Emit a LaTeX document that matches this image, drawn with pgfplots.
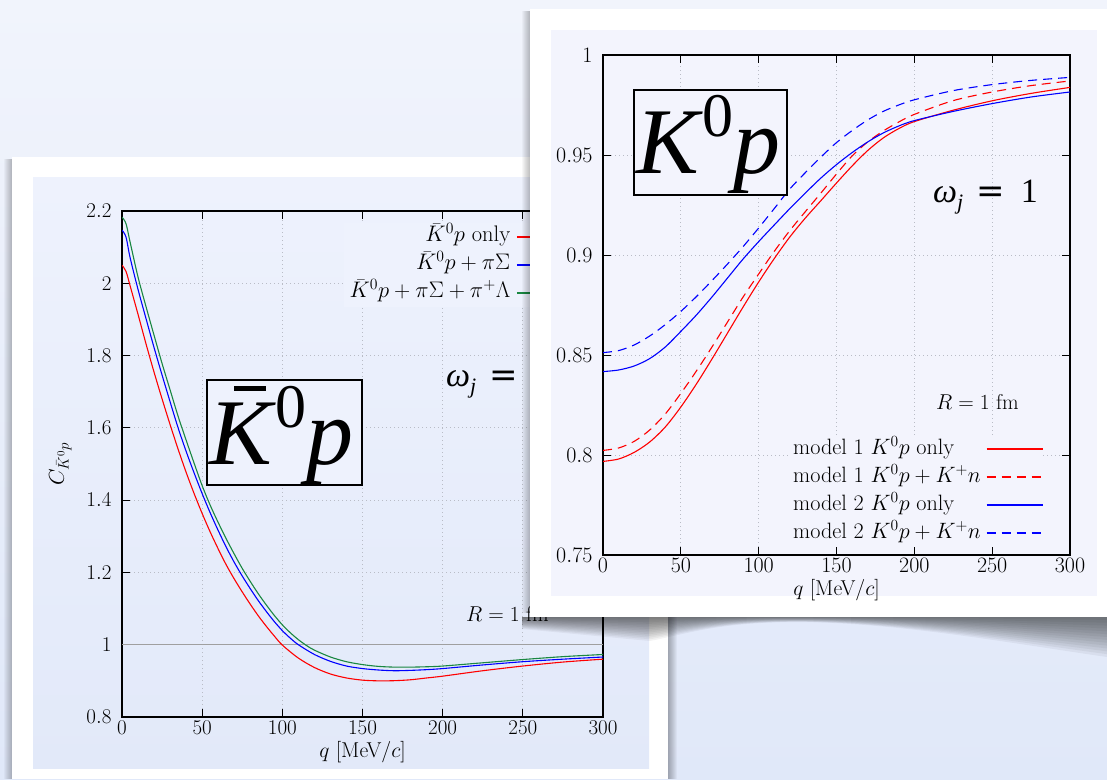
\RequirePackage{fix-cm}
\documentclass[border=0pt]{standalone}
\usepackage{fontspec}
\newfontfamily\tms{Liberation Serif}
\newfontfamily\djv{DejaVu Sans}
\usepackage{pgfplots}
\pgfplotsset{compat=1.18}

\definecolor{bgtop}{RGB}{241,244,252}
\definecolor{bgbot}{RGB}{224,232,249}
\definecolor{lefttop}{RGB}{238,242,253}
\definecolor{leftbot}{RGB}{226,233,249}
\definecolor{righttint}{RGB}{243,244,253}
\definecolor{mygreen}{RGB}{25,135,65}
\definecolor{gridc}{RGB}{185,188,198}

\newcommand{\omj}{{\tms\fontsize{34}{34}\selectfont\textit{ω}\raisebox{-7pt}{\fontsize{22}{22}\selectfont\textit{j}}\hspace{13pt}{\djv =}\hspace{16pt}1}}
\newcommand{\bigK}{{\tms\fontsize{94}{94}\selectfont\itshape K\/\upshape\raisebox{37pt}{\fontsize{62}{62}\selectfont 0}\itshape p}}

\pgfplotsset{
  mybase/.style={
    scale only axis, anchor=south west,
    xmin=0, xmax=300, xtick={0,50,100,150,200,250,300},
    tick align=inside, major tick length=8pt,
    every tick/.style={black, line width=0.9pt},
    axis line style={line width=1.1pt},
    grid=major,
    major grid style={gridc, line width=0.8pt, dash pattern=on 1.2pt off 2.8pt},
    yticklabel style={xshift=-7pt},
    legend plot pos=right,
    /pgf/number format/.cd, fixed, precision=2,
  },
}

\begin{document}
\begin{tikzpicture}
\begin{scope}[x=1pt,y=1pt]
\shade[top color=bgtop, bottom color=bgbot] (0,0) rectangle (1107,779);
% left card shadows
\foreach \i in {1,...,8} {\fill[black,opacity=0.03] (12-\i,0) rectangle (12,620);}
\foreach \i in {1,...,9} {\fill[black,opacity=0.035] (668,0) rectangle (668+\i,620);}
\fill[white] (12,0) rectangle (668,622);
\shade[top color=lefttop, bottom color=leftbot] (33,11) rectangle (649,601);
\end{scope}

% ---------------- left chart ----------------
\begin{axis}[mybase,
  at={(122pt,62pt)}, width=481pt, height=506pt,
  ymin=0.8, ymax=2.2, ytick={0.8,1.0,1.2,1.4,1.6,1.8,2.0,2.2},
  tick label style={font=\fontsize{21}{21}\selectfont},
  label style={font=\fontsize{21.5}{21.5}\selectfont},
  xlabel={$q$ [MeV$/c$]}, ylabel={$C_{\bar K^0p}$},
  ylabel shift=8pt,
  legend cell align=right,
  legend image code/.code={\draw[#1, line width=1.5pt] (0pt,0pt) -- (50pt,0pt);},
  legend style={at={(0.927,0.977)}, anchor=north east, draw=none, fill=lefttop,
    inner sep=0pt, font=\fontsize{22.5}{22.5}\selectfont, row sep=0pt,
    nodes={inner ysep=3pt, inner xsep=6pt, text height=16pt, text depth=6pt}},
]
\addplot[gray!75, line width=0.8pt, forget plot] coordinates {(0,1) (300,1)};
\addplot[red, line width=1.1pt, smooth] coordinates {
(0,2.050)(2.5,2.033)(5,1.994)(10,1.914)(15,1.832)(20,1.754)(25,1.680)(30,1.609)
(35,1.541)(40,1.477)(45,1.418)(50,1.363)(55,1.312)(60,1.265)(65,1.221)(70,1.182)
(75,1.146)(80,1.112)(85,1.080)(90,1.051)(95,1.024)(100,0.999)(110,0.963)(120,0.937)
(130,0.919)(140,0.908)(150,0.902)(160,0.900)(170,0.9005)(180,0.903)(190,0.908)
(200,0.913)(225,0.928)(250,0.941)(275,0.952)(300,0.960)};
\addlegendentry{$\bar K^0p$ only}
\addplot[blue, line width=1.1pt, smooth] coordinates {
(0,2.147)(2.5,2.128)(5,2.072)(10,1.983)(15,1.902)(20,1.822)(25,1.746)(30,1.672)
(35,1.600)(40,1.535)(45,1.475)(50,1.418)(55,1.365)(60,1.316)(65,1.270)(70,1.228)
(75,1.190)(80,1.155)(85,1.122)(90,1.092)(95,1.064)(100,1.039)(105,1.018)(110,1.000)
(120,0.973)(130,0.954)(140,0.941)(150,0.934)(160,0.930)(170,0.928)(180,0.929)
(190,0.931)(200,0.934)(225,0.944)(250,0.953)(275,0.960)(300,0.966)};
\addlegendentry{$\bar K^0p+\pi\Sigma$}
\addplot[mygreen, line width=1.1pt, smooth] coordinates {
(0,2.183)(2.5,2.165)(5,2.115)(10,2.017)(15,1.935)(20,1.856)(25,1.778)(30,1.705)
(35,1.632)(40,1.566)(45,1.502)(50,1.440)(55,1.386)(60,1.338)(65,1.293)(70,1.251)
(75,1.211)(80,1.175)(85,1.141)(90,1.110)(95,1.081)(100,1.055)(105,1.033)(110,1.014)
(115,0.998)(120,0.985)(130,0.966)(140,0.953)(150,0.945)(160,0.940)(170,0.938)
(180,0.938)(190,0.939)(200,0.941)(225,0.950)(250,0.959)(275,0.967)(300,0.973)};
\addlegendentry{$\bar K^0p+\pi\Sigma+\pi^+\Lambda$}
\end{axis}

\begin{scope}[x=1pt,y=1pt]
\filldraw[fill=lefttop, line width=2pt] (207,294) rectangle (362,399);
\node[anchor=base west, inner sep=0pt] at (209,314) {\bigK};
\fill (234,388) rectangle (266,393);
\node[anchor=base west, inner sep=0pt] at (446,392) {\omj};
\node[anchor=base west, inner sep=0pt, font=\fontsize{21.5}{21.5}\selectfont] at (466,158) {$R=1$ fm};

% right card shadows
\foreach \i in {1,...,8} {\fill[black,opacity=0.03] (530-\i,166) rectangle (530,768);}
\foreach \k in {0,...,13} {
  \pgfmathsetmacro{\f}{1-\k/14}
  \fill[black,opacity=0.048] (522,162) -- (1107,162) -- (1107,{162-40*\f})
   .. controls (1010,{162-26*\f}) and (900,{162-6*\f}) .. (800,{162-5*\f})
   .. controls (720,{162-5*\f}) and (690,{162-16*\f}) .. (650,{162-24*\f})
   -- (522,{162-12*\f}) -- cycle;}
\fill[white] (530,162) rectangle (1107,770);
\fill[righttint] (551,183) rectangle (1097,749);
\end{scope}

% ---------------- right chart ----------------
\begin{axis}[mybase,
  at={(603pt,224pt)}, width=467pt, height=500pt,
  ymin=0.75, ymax=1, ytick={0.75,0.80,0.85,0.90,0.95,1.00},
  tick label style={font=\fontsize{22}{22}\selectfont},
  label style={font=\fontsize{21.5}{21.5}\selectfont},
  xlabel={$q$ [MeV$/c$]},
  legend cell align=left,
  legend image code/.code={\draw[#1, line width=1.5pt] (0pt,0pt) -- (56pt,0pt);},
  legend style={at={(0.3961,0.2406)}, anchor=north west, draw=none, fill=righttint,
    inner sep=0pt, font=\fontsize{22.2}{22.2}\selectfont, row sep=0pt,
    nodes={inner ysep=3.25pt, inner xsep=5pt, text height=16pt, text depth=5.5pt}},
]
\addplot[red, line width=1.1pt, smooth] coordinates {
(0,0.7968)(10,0.7980)(20,0.8013)(30,0.8065)(40,0.8140)(50,0.8240)(60,0.8355)
(70,0.8480)(80,0.8610)(90,0.8740)(100,0.8865)(110,0.8982)(120,0.9090)(130,0.9185)
(140,0.9272)(150,0.9360)(160,0.9445)(170,0.9522)(180,0.9585)(190,0.9632)(200,0.9667)
(225,0.9724)(250,0.9771)(275,0.9808)(300,0.9838)};
\addlegendentry{model 1 $K^0p$ only}
\addplot[red, line width=1.1pt, dash pattern=on 9pt off 6pt, smooth] coordinates {
(0,0.8023)(10,0.8035)(20,0.8068)(30,0.8125)(40,0.8205)(50,0.8308)(60,0.8420)
(70,0.8540)(80,0.8665)(90,0.8790)(100,0.8905)(110,0.9018)(120,0.9122)(130,0.9217)
(140,0.9310)(150,0.9405)(160,0.9495)(170,0.9565)(180,0.9620)(190,0.9665)(200,0.9703)
(225,0.9772)(250,0.9815)(275,0.9847)(300,0.9870)};
\addlegendentry{model 1 $K^0p+K^+n$}
\addplot[blue, line width=1.1pt, smooth] coordinates {
(0,0.8417)(10,0.8425)(20,0.8445)(30,0.8482)(40,0.8540)(50,0.8618)(60,0.8700)
(70,0.8790)(80,0.8885)(90,0.8980)(100,0.9067)(110,0.9150)(120,0.9232)(130,0.9310)
(140,0.9385)(150,0.9452)(160,0.9512)(170,0.9565)(180,0.9610)(190,0.9645)(200,0.9672)
(225,0.9718)(250,0.9757)(275,0.9790)(300,0.9815)};
\addlegendentry{model 2 $K^0p$ only}
\addplot[blue, line width=1.1pt, dash pattern=on 9pt off 6pt, smooth] coordinates {
(0,0.8512)(10,0.8522)(20,0.8550)(30,0.8595)(40,0.8652)(50,0.8718)(60,0.8792)
(70,0.8872)(80,0.8955)(90,0.9042)(100,0.9135)(110,0.9232)(120,0.9330)(130,0.9412)
(140,0.9490)(150,0.9562)(160,0.9622)(170,0.9675)(180,0.9718)(190,0.9750)(200,0.9776)
(225,0.9822)(250,0.9852)(275,0.9873)(300,0.9888)};
\addlegendentry{model 2 $K^0p+K^+n$}
\end{axis}

\begin{scope}[x=1pt,y=1pt]
\filldraw[fill=righttint, line width=2pt] (634,584) rectangle (787,689);
\node[anchor=base west, inner sep=0pt] at (636,605) {\bigK};
\node[anchor=base west, inner sep=0pt] at (933,576) {\omj};
\node[anchor=base west, inner sep=0pt, font=\fontsize{21.5}{21.5}\selectfont] at (936,369) {$R=1$ fm};
\pgfresetboundingbox
\useasboundingbox (0,0) rectangle (1107,779);
\end{scope}
\end{tikzpicture}
\end{document}
